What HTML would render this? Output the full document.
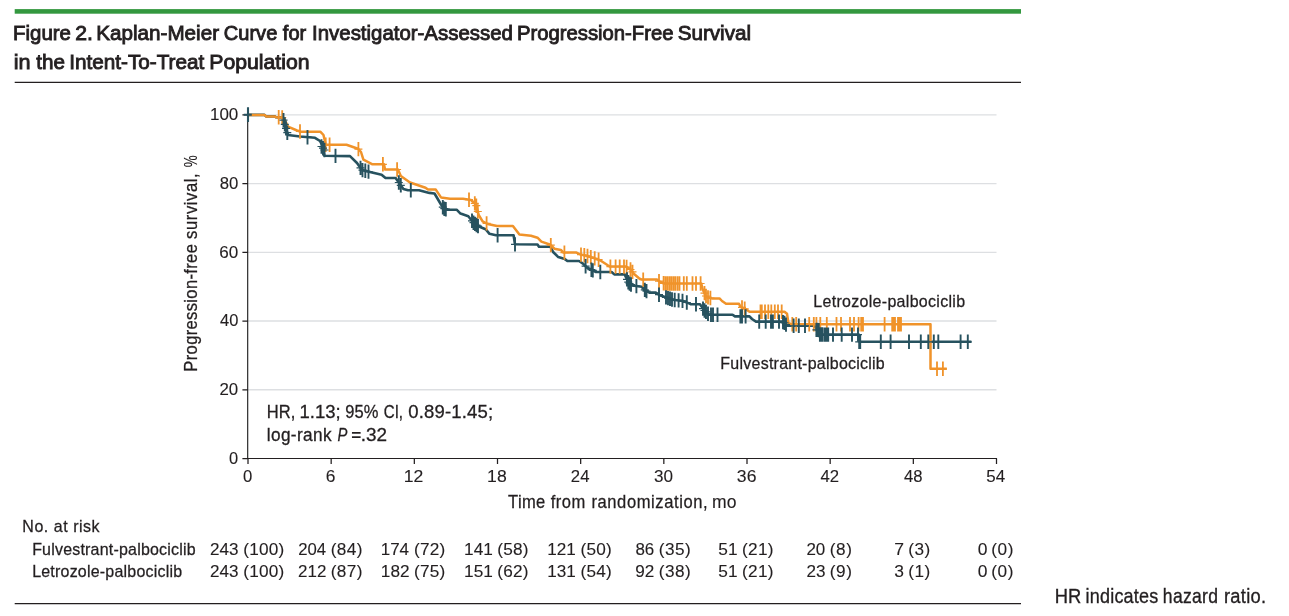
<!DOCTYPE html>
<html lang="en"><head><meta charset="utf-8"><title>Figure 2</title>
<style>
html,body{margin:0;padding:0;background:#fff;}
body{width:1289px;height:616px;overflow:hidden;position:relative;font-family:"Liberation Sans",sans-serif;}
svg{position:absolute;left:0;top:0;display:block;}
text{font-family:"Liberation Sans",sans-serif;fill:#231f20;stroke:#231f20;}

</style></head><body>
<svg width="1289" height="616" viewBox="0 0 1289 616">

<rect x="14.7" y="9.1" width="1006.3" height="4.6" fill="#33983f"/>
<rect x="14.7" y="81.75" width="1006.3" height="1.25" fill="#231f20"/>
<rect x="14.7" y="603" width="1006.3" height="1.25" fill="#231f20"/>
<line x1="248.0" x2="996.5" y1="389.76" y2="389.76" stroke="#dddfe2" stroke-width="1.3"/>
<line x1="248.0" x2="996.5" y1="321.02" y2="321.02" stroke="#dddfe2" stroke-width="1.3"/>
<line x1="248.0" x2="996.5" y1="252.28" y2="252.28" stroke="#dddfe2" stroke-width="1.3"/>
<line x1="248.0" x2="996.5" y1="183.54" y2="183.54" stroke="#dddfe2" stroke-width="1.3"/>
<line x1="248.0" x2="996.5" y1="114.80" y2="114.80" stroke="#dddfe2" stroke-width="1.3"/>
<path d="M248.0,114.9 L264.5,114.9 L266.0,116.4 L275.0,116.4 L276.0,117.2 L282.0,117.4 L283.0,118.5 L288.0,135.0 L292.0,135.5 L300.0,136.5 L315.0,137.8 L320.0,141.0 L322.5,146.0 L324.4,155.8 L350.0,156.1 L357.0,163.0 L362.0,170.0 L370.0,172.0 L381.6,174.7 L385.5,178.0 L395.6,178.0 L403.4,189.0 L408.0,190.3 L419.0,190.3 L429.4,192.9 L434.5,193.5 L441.0,204.5 L443.6,208.4 L447.0,209.7 L456.6,209.7 L460.5,213.6 L468.3,216.2 L473.5,222.7 L477.8,226.0 L485.6,229.2 L489.5,233.8 L496.0,235.3 L513.6,235.3 L515.0,244.3 L537.5,244.5 L539.0,246.8 L550.5,246.8 L553.1,252.0 L558.3,257.1 L564.8,259.1 L567.4,261.0 L579.0,261.0 L583.0,263.6 L586.9,267.5 L592.0,270.0 L596.0,272.0 L611.6,272.0 L614.3,274.4 L624.7,274.4 L628.6,282.9 L632.5,285.5 L641.6,286.8 L645.5,290.6 L649.4,292.6 L655.8,292.6 L659.7,295.2 L665.0,297.0 L672.7,299.7 L683.0,301.0 L689.6,303.6 L691.0,304.3 L700.0,304.3 L704.0,310.0 L709.0,314.7 L732.5,314.7 L735.0,316.4 L749.5,316.4 L752.0,319.0 L756.0,321.6 L782.0,321.6 L784.5,322.9 L787.0,325.8 L814.4,325.8 L817.0,329.4 L819.6,334.6 L858.8,334.6 L859.6,341.8 L971.4,341.8" fill="none" stroke="#27525f" stroke-width="2.6" stroke-linejoin="round"/>
<path d="M248.0,114.9 L264.5,114.9 L266.0,116.4 L275.0,116.4 L276.0,117.2 L282.0,117.4 L284.0,118.5 L288.0,126.6 L297.0,130.5 L301.0,131.8 L320.5,131.8 L323.5,135.0 L325.7,144.8 L346.5,144.8 L358.0,148.7 L361.0,152.0 L363.4,159.7 L372.5,164.3 L384.0,164.3 L385.0,169.5 L398.0,169.5 L400.8,176.0 L410.0,182.5 L425.5,187.7 L428.0,189.6 L435.8,189.6 L441.0,197.4 L450.0,198.7 L463.0,198.7 L471.0,200.0 L476.0,204.5 L478.7,215.0 L482.6,221.4 L487.8,224.0 L497.0,226.0 L512.9,226.0 L519.4,234.4 L531.0,235.7 L537.5,237.7 L541.4,241.6 L550.5,244.8 L554.4,248.7 L560.9,250.0 L563.5,252.6 L576.5,252.6 L580.4,254.5 L586.9,255.8 L594.7,258.4 L600.0,260.2 L607.8,265.3 L610.0,266.6 L626.0,266.6 L631.2,269.9 L633.8,273.8 L639.0,278.3 L642.0,279.6 L657.0,279.6 L659.7,281.6 L664.0,283.5 L701.3,283.5 L702.6,289.4 L706.5,297.0 L711.7,298.4 L719.5,298.4 L722.0,301.0 L726.0,303.8 L739.0,303.8 L740.4,306.6 L746.9,309.9 L749.5,311.8 L784.5,311.8 L787.0,313.8 L788.4,322.9 L791.0,324.2 L930.5,324.2 L930.5,368.8 L946.8,368.8" fill="none" stroke="#f0932a" stroke-width="2.5" stroke-linejoin="round"/>
<path d="M278.7,110.1v14.4M282.2,110.3v14.4M300.0,124.3v14.4M325.7,137.6v14.4M329.6,137.6v14.4M358.4,141.9v14.4M382.9,157.1v14.4M397.1,162.3v14.4M469.0,192.5v14.4M474.8,196.2v14.4M476.3,198.5v14.4M477.8,204.3v14.4M486.6,216.2v14.4M550.8,237.9v14.4M564.4,245.4v14.4M581.0,247.4v14.4M584.3,248.1v14.4M587.5,248.8v14.4M590.8,249.9v14.4M594.7,251.2v14.4M598.6,252.5v14.4M610.4,259.4v14.4M615.6,259.4v14.4M619.7,259.4v14.4M624.0,259.4v14.4M626.6,259.8v14.4M630.5,262.3v14.4M632.5,264.7v14.4M643.2,272.4v14.4M659.0,273.9v14.4M663.6,276.1v14.4M665.6,276.3v14.4M667.5,276.3v14.4M669.5,276.3v14.4M671.4,276.3v14.4M673.4,276.3v14.4M675.3,276.3v14.4M677.5,276.3v14.4M679.5,276.3v14.4M683.8,276.3v14.4M686.8,276.3v14.4M692.5,276.3v14.4M696.0,276.3v14.4M700.6,276.3v14.4M704.5,285.9v14.4M706.0,288.8v14.4M708.0,290.2v14.4M710.4,290.8v14.4M742.0,300.2v14.4M744.7,301.6v14.4M760.5,304.6v14.4M761.8,304.6v14.4M765.0,304.6v14.4M768.3,304.6v14.4M771.3,304.6v14.4M774.8,304.6v14.4M778.0,304.6v14.4M781.7,304.6v14.4M792.3,317.0v14.4M796.2,317.0v14.4M809.2,317.0v14.4M813.8,317.0v14.4M816.4,317.0v14.4M820.3,317.0v14.4M826.8,317.0v14.4M836.5,317.0v14.4M841.0,317.0v14.4M850.0,317.0v14.4M854.0,317.0v14.4M858.6,317.0v14.4M861.2,317.0v14.4M863.0,317.0v14.4M884.6,317.0v14.4M892.2,317.0v14.4M893.5,317.0v14.4M895.0,317.0v14.4M898.0,317.0v14.4M899.4,317.0v14.4M901.0,317.0v14.4M937.0,361.6v14.4M942.9,361.6v14.4" fill="none" stroke="#f0932a" stroke-width="1.8"/>
<path d="M274.7,117.3h8M278.2,117.5h8M296.0,131.5h8M321.7,144.8h8M325.6,144.8h8M354.4,149.1h8M378.9,164.3h8M393.1,169.5h8M465.0,199.7h8M470.8,203.4h8M472.3,205.7h8M473.8,211.5h8M482.6,223.4h8M546.8,245.1h8M560.4,252.6h8M577.0,254.6h8M580.3,255.3h8M583.5,256.0h8M586.8,257.1h8M590.7,258.4h8M594.6,259.7h8M606.4,266.6h8M611.6,266.6h8M615.7,266.6h8M620.0,266.6h8M622.6,267.0h8M626.5,269.5h8M628.5,271.9h8M639.2,279.6h8M655.0,281.1h8M659.6,283.3h8M661.6,283.5h8M663.5,283.5h8M665.5,283.5h8M667.4,283.5h8M669.4,283.5h8M671.3,283.5h8M673.5,283.5h8M675.5,283.5h8M679.8,283.5h8M682.8,283.5h8M688.5,283.5h8M692.0,283.5h8M696.6,283.5h8M700.5,293.1h8M702.0,296.0h8M704.0,297.4h8M706.4,298.0h8M738.0,307.4h8M740.7,308.8h8M756.5,311.8h8M757.8,311.8h8M761.0,311.8h8M764.3,311.8h8M767.3,311.8h8M770.8,311.8h8M774.0,311.8h8M777.7,311.8h8M788.3,324.2h8M792.2,324.2h8M805.2,324.2h8M809.8,324.2h8M812.4,324.2h8M816.3,324.2h8M822.8,324.2h8M832.5,324.2h8M837.0,324.2h8M846.0,324.2h8M850.0,324.2h8M854.6,324.2h8M857.2,324.2h8M859.0,324.2h8M880.6,324.2h8M888.2,324.2h8M889.5,324.2h8M891.0,324.2h8M894.0,324.2h8M895.4,324.2h8M897.0,324.2h8M933.0,368.8h8M938.9,368.8h8" fill="none" stroke="#f0932a" stroke-width="1.2"/>
<path d="M283.5,113.0v14.4M284.8,117.2v14.4M286.0,121.2v14.4M287.3,125.5v14.4M307.5,130.0v14.4M321.5,139.3v14.4M323.0,141.0v14.4M324.5,142.8v14.4M335.5,148.7v14.4M360.5,160.7v14.4M362.5,162.9v14.4M365.3,163.6v14.4M368.5,164.4v14.4M398.8,175.3v14.4M400.8,178.1v14.4M410.8,183.1v14.4M442.8,200.0v14.4M444.3,201.5v14.4M445.8,202.0v14.4M472.0,213.6v14.4M473.5,215.5v14.4M475.0,216.7v14.4M476.5,217.8v14.4M478.0,218.9v14.4M497.6,228.1v14.4M515.0,237.2v14.4M585.6,259.0v14.4M591.4,262.5v14.4M592.8,263.2v14.4M600.3,264.8v14.4M627.0,272.2v14.4M628.3,275.0v14.4M629.6,276.4v14.4M631.0,277.3v14.4M636.4,278.9v14.4M644.8,282.7v14.4M646.5,283.9v14.4M659.0,287.5v14.4M666.0,290.2v14.4M668.0,290.9v14.4M670.0,291.6v14.4M672.0,292.3v14.4M674.7,292.8v14.4M678.6,293.2v14.4M682.5,293.7v14.4M686.8,295.3v14.4M696.0,297.1v14.4M703.0,301.4v14.4M704.5,303.3v14.4M706.0,304.7v14.4M708.0,306.6v14.4M711.0,307.5v14.4M713.0,307.5v14.4M717.5,307.5v14.4M740.4,309.2v14.4M742.0,309.2v14.4M745.6,309.2v14.4M759.2,314.4v14.4M765.7,314.4v14.4M771.0,314.4v14.4M772.9,314.4v14.4M779.0,314.4v14.4M783.0,314.9v14.4M784.5,315.7v14.4M786.0,317.4v14.4M793.6,318.6v14.4M798.8,318.6v14.4M805.0,318.6v14.4M816.4,322.7v14.4M817.6,322.7v14.4M818.8,322.9v14.4M819.9,327.3v14.4M821.1,327.3v14.4M822.3,327.3v14.4M824.5,327.4v14.4M825.8,327.4v14.4M827.3,327.4v14.4M828.2,327.4v14.4M833.0,327.4v14.4M841.7,327.4v14.4M852.0,327.4v14.4M858.0,327.4v14.4M859.2,334.6v14.4M860.2,334.6v14.4M880.8,334.6v14.4M890.6,334.6v14.4M909.0,334.6v14.4M920.8,334.6v14.4M928.3,334.6v14.4M933.8,334.6v14.4M938.3,334.6v14.4M960.6,334.6v14.4M967.8,334.6v14.4" fill="none" stroke="#27525f" stroke-width="1.9"/>
<path d="M279.5,120.2h8M280.8,124.4h8M282.0,128.4h8M283.3,132.7h8M303.5,137.2h8M317.5,146.5h8M319.0,148.2h8M320.5,150.0h8M331.5,155.9h8M356.5,167.9h8M358.5,170.1h8M361.3,170.8h8M364.5,171.6h8M394.8,182.5h8M396.8,185.3h8M406.8,190.3h8M438.8,207.2h8M440.3,208.7h8M441.8,209.2h8M468.0,220.8h8M469.5,222.7h8M471.0,223.9h8M472.5,225.0h8M474.0,226.1h8M493.6,235.3h8M511.0,244.4h8M581.6,266.2h8M587.4,269.7h8M588.8,270.4h8M596.3,272.0h8M623.0,279.4h8M624.3,282.2h8M625.6,283.6h8M627.0,284.5h8M632.4,286.1h8M640.8,289.9h8M642.5,291.1h8M655.0,294.7h8M662.0,297.4h8M664.0,298.1h8M666.0,298.8h8M668.0,299.5h8M670.7,300.0h8M674.6,300.4h8M678.5,300.9h8M682.8,302.5h8M692.0,304.3h8M699.0,308.6h8M700.5,310.5h8M702.0,311.9h8M704.0,313.8h8M707.0,314.7h8M709.0,314.7h8M713.5,314.7h8M736.4,316.4h8M738.0,316.4h8M741.6,316.4h8M755.2,321.6h8M761.7,321.6h8M767.0,321.6h8M768.9,321.6h8M775.0,321.6h8M779.0,322.1h8M780.5,322.9h8M782.0,324.6h8M789.6,325.8h8M794.8,325.8h8M801.0,325.8h8M812.4,329.9h8M813.6,329.9h8M814.8,330.1h8M815.9,334.5h8M817.1,334.5h8M818.3,334.5h8M820.5,334.6h8M821.8,334.6h8M823.3,334.6h8M824.2,334.6h8M829.0,334.6h8M837.7,334.6h8M848.0,334.6h8M854.0,334.6h8M855.2,341.8h8M856.2,341.8h8M876.8,341.8h8M886.6,341.8h8M905.0,341.8h8M916.8,341.8h8M924.3,341.8h8M929.8,341.8h8M934.3,341.8h8M956.6,341.8h8M963.8,341.8h8" fill="none" stroke="#27525f" stroke-width="1.2"/>
<path d="M247.65,121.8V459.0" fill="none" stroke="#3a3a3a" stroke-width="1.3"/>
<path d="M247.2,458.5H997.0" fill="none" stroke="#231f20" stroke-width="1.1"/>
<path d="M248.0,458.50h-5.6M248.0,389.76h-5.6M248.0,321.02h-5.6M248.0,252.28h-5.6M248.0,183.54h-5.6M248.0,114.80h-5.6M248.00,458.5v5.5M331.17,458.5v5.5M414.33,458.5v5.5M497.50,458.5v5.5M580.67,458.5v5.5M663.83,458.5v5.5M747.00,458.5v5.5M830.17,458.5v5.5M913.33,458.5v5.5M996.50,458.5v5.5" fill="none" stroke="#231f20" stroke-width="1.25"/>
<path d="M248,107.3V122M243.8,114.8H251.8" fill="none" stroke="#27525f" stroke-width="2.1"/>
<text x="13.09" y="39.50" font-size="20.9" stroke-width="0.9" textLength="57.91" lengthAdjust="spacingAndGlyphs">Figure</text>
<text x="75.31" y="39.50" font-size="20.9" stroke-width="0.9" textLength="17.70" lengthAdjust="spacingAndGlyphs">2.</text>
<text x="96.27" y="39.50" font-size="20.9" stroke-width="0.9" textLength="122.77" lengthAdjust="spacingAndGlyphs">Kaplan-Meier</text>
<text x="223.82" y="39.50" font-size="20.9" stroke-width="0.9" textLength="53.47" lengthAdjust="spacingAndGlyphs">Curve</text>
<text x="282.87" y="39.50" font-size="20.9" stroke-width="0.9" textLength="23.40" lengthAdjust="spacingAndGlyphs">for</text>
<text x="312.07" y="39.50" font-size="20.9" stroke-width="0.9" textLength="200.80" lengthAdjust="spacingAndGlyphs">Investigator-Assessed</text>
<text x="516.91" y="39.50" font-size="20.9" stroke-width="0.9" textLength="156.59" lengthAdjust="spacingAndGlyphs">Progression-Free</text>
<text x="677.64" y="39.50" font-size="20.9" stroke-width="0.9" textLength="73.49" lengthAdjust="spacingAndGlyphs">Survival</text>
<text x="13.74" y="69.00" font-size="20.9" stroke-width="0.9" textLength="16.82" lengthAdjust="spacingAndGlyphs">in</text>
<text x="36.18" y="69.00" font-size="20.9" stroke-width="0.9" textLength="28.73" lengthAdjust="spacingAndGlyphs">the</text>
<text x="69.18" y="69.00" font-size="20.9" stroke-width="0.9" textLength="135.13" lengthAdjust="spacingAndGlyphs">Intent-To-Treat</text>
<text x="209.27" y="69.00" font-size="20.9" stroke-width="0.9" textLength="100.32" lengthAdjust="spacingAndGlyphs">Population</text>
<text x="229.06" y="463.90" font-size="17.2" stroke-width="0.12" textLength="9.12" lengthAdjust="spacingAndGlyphs">0</text>
<text x="219.49" y="395.16" font-size="17.2" stroke-width="0.12" textLength="18.74" lengthAdjust="spacingAndGlyphs">20</text>
<text x="220.04" y="326.42" font-size="17.2" stroke-width="0.12" textLength="18.32" lengthAdjust="spacingAndGlyphs">40</text>
<text x="219.35" y="257.68" font-size="17.2" stroke-width="0.12" textLength="18.99" lengthAdjust="spacingAndGlyphs">60</text>
<text x="219.65" y="188.94" font-size="17.2" stroke-width="0.12" textLength="18.62" lengthAdjust="spacingAndGlyphs">80</text>
<text x="209.98" y="120.20" font-size="17.2" stroke-width="0.12" textLength="28.34" lengthAdjust="spacingAndGlyphs">100</text>
<text x="242.97" y="481.80" font-size="17.2" stroke-width="0.12" textLength="9.29" lengthAdjust="spacingAndGlyphs">0</text>
<text x="325.85" y="481.80" font-size="17.2" stroke-width="0.12" textLength="9.68" lengthAdjust="spacingAndGlyphs">6</text>
<text x="403.82" y="481.80" font-size="17.2" stroke-width="0.12" textLength="19.58" lengthAdjust="spacingAndGlyphs">12</text>
<text x="487.10" y="481.80" font-size="17.2" stroke-width="0.12" textLength="19.60" lengthAdjust="spacingAndGlyphs">18</text>
<text x="570.87" y="481.80" font-size="17.2" stroke-width="0.12" textLength="18.58" lengthAdjust="spacingAndGlyphs">24</text>
<text x="653.94" y="481.80" font-size="17.2" stroke-width="0.12" textLength="18.99" lengthAdjust="spacingAndGlyphs">30</text>
<text x="736.87" y="481.80" font-size="17.2" stroke-width="0.12" textLength="19.59" lengthAdjust="spacingAndGlyphs">36</text>
<text x="820.56" y="481.80" font-size="17.2" stroke-width="0.12" textLength="18.60" lengthAdjust="spacingAndGlyphs">42</text>
<text x="903.91" y="481.80" font-size="17.2" stroke-width="0.12" textLength="18.54" lengthAdjust="spacingAndGlyphs">48</text>
<text x="986.35" y="481.80" font-size="17.2" stroke-width="0.12" textLength="18.86" lengthAdjust="spacingAndGlyphs">54</text>
<text transform="translate(508.07,507.70) scale(0.93,1)" font-size="17.8" stroke-width="0.28" textLength="39.98" lengthAdjust="spacing">Time</text>
<text transform="translate(550.71,507.70) scale(0.93,1)" font-size="17.8" stroke-width="0.28" textLength="37.09" lengthAdjust="spacing">from</text>
<text transform="translate(591.38,507.70) scale(0.93,1)" font-size="17.8" stroke-width="0.28" textLength="125.11" lengthAdjust="spacing">randomization,</text>
<text x="712.09" y="507.70" font-size="17.8" stroke-width="0.12" textLength="24.38" lengthAdjust="spacingAndGlyphs">mo</text>
<text transform="translate(197.00,371.64) rotate(-90) scale(0.93,1)" font-size="17.8" stroke-width="0.28" textLength="137.12" lengthAdjust="spacing">Progression-free</text>
<text transform="translate(197.00,238.89) rotate(-90) scale(0.93,1)" font-size="17.8" stroke-width="0.28" textLength="70.45" lengthAdjust="spacing">survival,</text>
<text transform="translate(197.00,167.20) rotate(-90)" font-size="17.8" stroke-width="0.12" textLength="12.02" lengthAdjust="spacingAndGlyphs">%</text>
<text x="266.86" y="417.70" font-size="18.5" stroke-width="0.3" textLength="28.42" lengthAdjust="spacingAndGlyphs">HR,</text>
<text x="299.55" y="417.70" font-size="18.5" stroke-width="0.3" textLength="41.14" lengthAdjust="spacingAndGlyphs">1.13;</text>
<text x="345.33" y="417.70" font-size="18.5" stroke-width="0.3" textLength="32.99" lengthAdjust="spacingAndGlyphs">95%</text>
<text x="383.75" y="417.70" font-size="18.5" stroke-width="0.3" textLength="19.31" lengthAdjust="spacingAndGlyphs">CI,</text>
<text transform="translate(408.34,417.70) scale(1.0,1)" font-size="18.5" stroke-width="0.3" textLength="84.71" lengthAdjust="spacing">0.89-1.45;</text>
<text transform="translate(266.80,440.60) scale(0.93,1)" font-size="18.5" stroke-width="0.32" textLength="69.63" lengthAdjust="spacing">log-rank</text>
<text x="337.38" y="440.60" font-size="18.5" stroke-width="0.3" font-style="italic" textLength="9.88" lengthAdjust="spacingAndGlyphs">P</text>
<text x="351.20" y="440.60" font-size="16.650000000000002" stroke-width="0" font-weight="bold" textLength="10.09" lengthAdjust="spacingAndGlyphs">=</text>
<text x="360.71" y="440.60" font-size="18.5" stroke-width="0.3" textLength="26.32" lengthAdjust="spacingAndGlyphs">.32</text>
<text transform="translate(813.35,307.00) scale(0.93,1)" font-size="17.2" stroke-width="0.28" textLength="163.13" lengthAdjust="spacing">Letrozole-palbociclib</text>
<text transform="translate(720.35,369.00) scale(0.93,1)" font-size="17.2" stroke-width="0.28" textLength="176.79" lengthAdjust="spacing">Fulvestrant-palbociclib</text>
<text transform="translate(22.33,532.00) scale(0.93,1)" font-size="17.2" stroke-width="0.28" textLength="83.09" lengthAdjust="spacing">No. at risk</text>
<text transform="translate(32.13,554.60) scale(0.93,1)" font-size="17.2" stroke-width="0.28" textLength="175.80" lengthAdjust="spacing">Fulvestrant-palbociclib</text>
<text transform="translate(32.13,576.70) scale(0.93,1)" font-size="17.2" stroke-width="0.28" textLength="161.23" lengthAdjust="spacing">Letrozole-palbociclib</text>
<text x="209.93" y="554.60" font-size="17.2" stroke-width="0.12" textLength="28.50" lengthAdjust="spacingAndGlyphs">243</text>
<text transform="translate(243.31,554.60) scale(1.0,1)" font-size="17.2" stroke-width="0.12" textLength="41.03" lengthAdjust="spacing">(100)</text>
<text x="209.93" y="576.60" font-size="17.2" stroke-width="0.12" textLength="28.50" lengthAdjust="spacingAndGlyphs">243</text>
<text transform="translate(243.31,576.60) scale(1.0,1)" font-size="17.2" stroke-width="0.12" textLength="41.03" lengthAdjust="spacing">(100)</text>
<text x="298.19" y="554.60" font-size="17.2" stroke-width="0.12" textLength="27.88" lengthAdjust="spacingAndGlyphs">204</text>
<text transform="translate(330.72,554.60) scale(1.0,1)" font-size="17.2" stroke-width="0.12" textLength="31.66" lengthAdjust="spacing">(84)</text>
<text x="298.08" y="576.60" font-size="17.2" stroke-width="0.12" textLength="28.32" lengthAdjust="spacingAndGlyphs">212</text>
<text transform="translate(330.72,576.60) scale(1.0,1)" font-size="17.2" stroke-width="0.12" textLength="31.66" lengthAdjust="spacing">(87)</text>
<text x="380.71" y="554.60" font-size="17.2" stroke-width="0.12" textLength="28.39" lengthAdjust="spacingAndGlyphs">174</text>
<text transform="translate(413.92,554.60) scale(1.0,1)" font-size="17.2" stroke-width="0.12" textLength="31.38" lengthAdjust="spacing">(72)</text>
<text x="380.84" y="576.60" font-size="17.2" stroke-width="0.12" textLength="28.68" lengthAdjust="spacingAndGlyphs">182</text>
<text transform="translate(413.92,576.60) scale(1.0,1)" font-size="17.2" stroke-width="0.12" textLength="31.38" lengthAdjust="spacing">(75)</text>
<text x="464.07" y="554.60" font-size="17.2" stroke-width="0.12" textLength="28.76" lengthAdjust="spacingAndGlyphs">141</text>
<text transform="translate(497.18,554.60) scale(1.0,1)" font-size="17.2" stroke-width="0.12" textLength="31.39" lengthAdjust="spacing">(58)</text>
<text x="464.07" y="576.60" font-size="17.2" stroke-width="0.12" textLength="28.76" lengthAdjust="spacingAndGlyphs">151</text>
<text transform="translate(497.18,576.60) scale(1.0,1)" font-size="17.2" stroke-width="0.12" textLength="31.39" lengthAdjust="spacing">(62)</text>
<text x="547.13" y="554.60" font-size="17.2" stroke-width="0.12" textLength="28.58" lengthAdjust="spacingAndGlyphs">121</text>
<text transform="translate(580.43,554.60) scale(1.0,1)" font-size="17.2" stroke-width="0.12" textLength="31.42" lengthAdjust="spacing">(50)</text>
<text x="547.13" y="576.60" font-size="17.2" stroke-width="0.12" textLength="28.58" lengthAdjust="spacingAndGlyphs">131</text>
<text transform="translate(580.43,576.60) scale(1.0,1)" font-size="17.2" stroke-width="0.12" textLength="31.42" lengthAdjust="spacing">(54)</text>
<text x="635.43" y="554.60" font-size="17.2" stroke-width="0.12" textLength="18.89" lengthAdjust="spacingAndGlyphs">86</text>
<text transform="translate(658.77,554.60) scale(1.0,1)" font-size="17.2" stroke-width="0.12" textLength="31.93" lengthAdjust="spacing">(35)</text>
<text x="635.23" y="576.60" font-size="17.2" stroke-width="0.12" textLength="19.06" lengthAdjust="spacingAndGlyphs">92</text>
<text transform="translate(658.77,576.60) scale(1.0,1)" font-size="17.2" stroke-width="0.12" textLength="31.93" lengthAdjust="spacing">(38)</text>
<text x="718.32" y="554.60" font-size="17.2" stroke-width="0.12" textLength="19.20" lengthAdjust="spacingAndGlyphs">51</text>
<text transform="translate(742.01,554.60) scale(1.0,1)" font-size="17.2" stroke-width="0.12" textLength="31.59" lengthAdjust="spacing">(21)</text>
<text x="718.32" y="576.60" font-size="17.2" stroke-width="0.12" textLength="19.20" lengthAdjust="spacingAndGlyphs">51</text>
<text transform="translate(742.01,576.60) scale(1.0,1)" font-size="17.2" stroke-width="0.12" textLength="31.59" lengthAdjust="spacing">(21)</text>
<text x="806.44" y="554.60" font-size="17.2" stroke-width="0.12" textLength="18.86" lengthAdjust="spacingAndGlyphs">20</text>
<text transform="translate(829.65,554.60) scale(1.0,1)" font-size="17.2" stroke-width="0.12" textLength="22.46" lengthAdjust="spacing">(8)</text>
<text x="806.42" y="576.60" font-size="17.2" stroke-width="0.12" textLength="19.03" lengthAdjust="spacingAndGlyphs">23</text>
<text transform="translate(829.65,576.60) scale(1.0,1)" font-size="17.2" stroke-width="0.12" textLength="22.46" lengthAdjust="spacing">(9)</text>
<text x="894.33" y="554.60" font-size="17.2" stroke-width="0.12" textLength="9.78" lengthAdjust="spacingAndGlyphs">7</text>
<text transform="translate(908.21,554.60) scale(1.0,1)" font-size="17.2" stroke-width="0.12" textLength="22.10" lengthAdjust="spacing">(3)</text>
<text x="894.24" y="576.60" font-size="17.2" stroke-width="0.12" textLength="9.70" lengthAdjust="spacingAndGlyphs">3</text>
<text transform="translate(908.21,576.60) scale(1.0,1)" font-size="17.2" stroke-width="0.12" textLength="22.10" lengthAdjust="spacing">(1)</text>
<text x="977.73" y="554.60" font-size="17.2" stroke-width="0.12" textLength="9.71" lengthAdjust="spacingAndGlyphs">0</text>
<text transform="translate(991.25,554.60) scale(1.0,1)" font-size="17.2" stroke-width="0.12" textLength="22.22" lengthAdjust="spacing">(0)</text>
<text x="977.73" y="576.60" font-size="17.2" stroke-width="0.12" textLength="9.71" lengthAdjust="spacingAndGlyphs">0</text>
<text transform="translate(991.25,576.60) scale(1.0,1)" font-size="17.2" stroke-width="0.12" textLength="22.22" lengthAdjust="spacing">(0)</text>
<text x="1054.84" y="603.10" font-size="20.8" stroke-width="0.35" textLength="26.49" lengthAdjust="spacingAndGlyphs">HR</text>
<text transform="translate(1085.62,603.10) scale(0.866,1)" font-size="20.8" stroke-width="0.35" textLength="83.82" lengthAdjust="spacing">indicates</text>
<text transform="translate(1162.87,603.10) scale(0.844,1)" font-size="20.8" stroke-width="0.35" textLength="65.28" lengthAdjust="spacing">hazard</text>
<text transform="translate(1223.98,603.10) scale(0.88,1)" font-size="20.8" stroke-width="0.35" textLength="47.77" lengthAdjust="spacing">ratio.</text>
</svg>
</body></html>
